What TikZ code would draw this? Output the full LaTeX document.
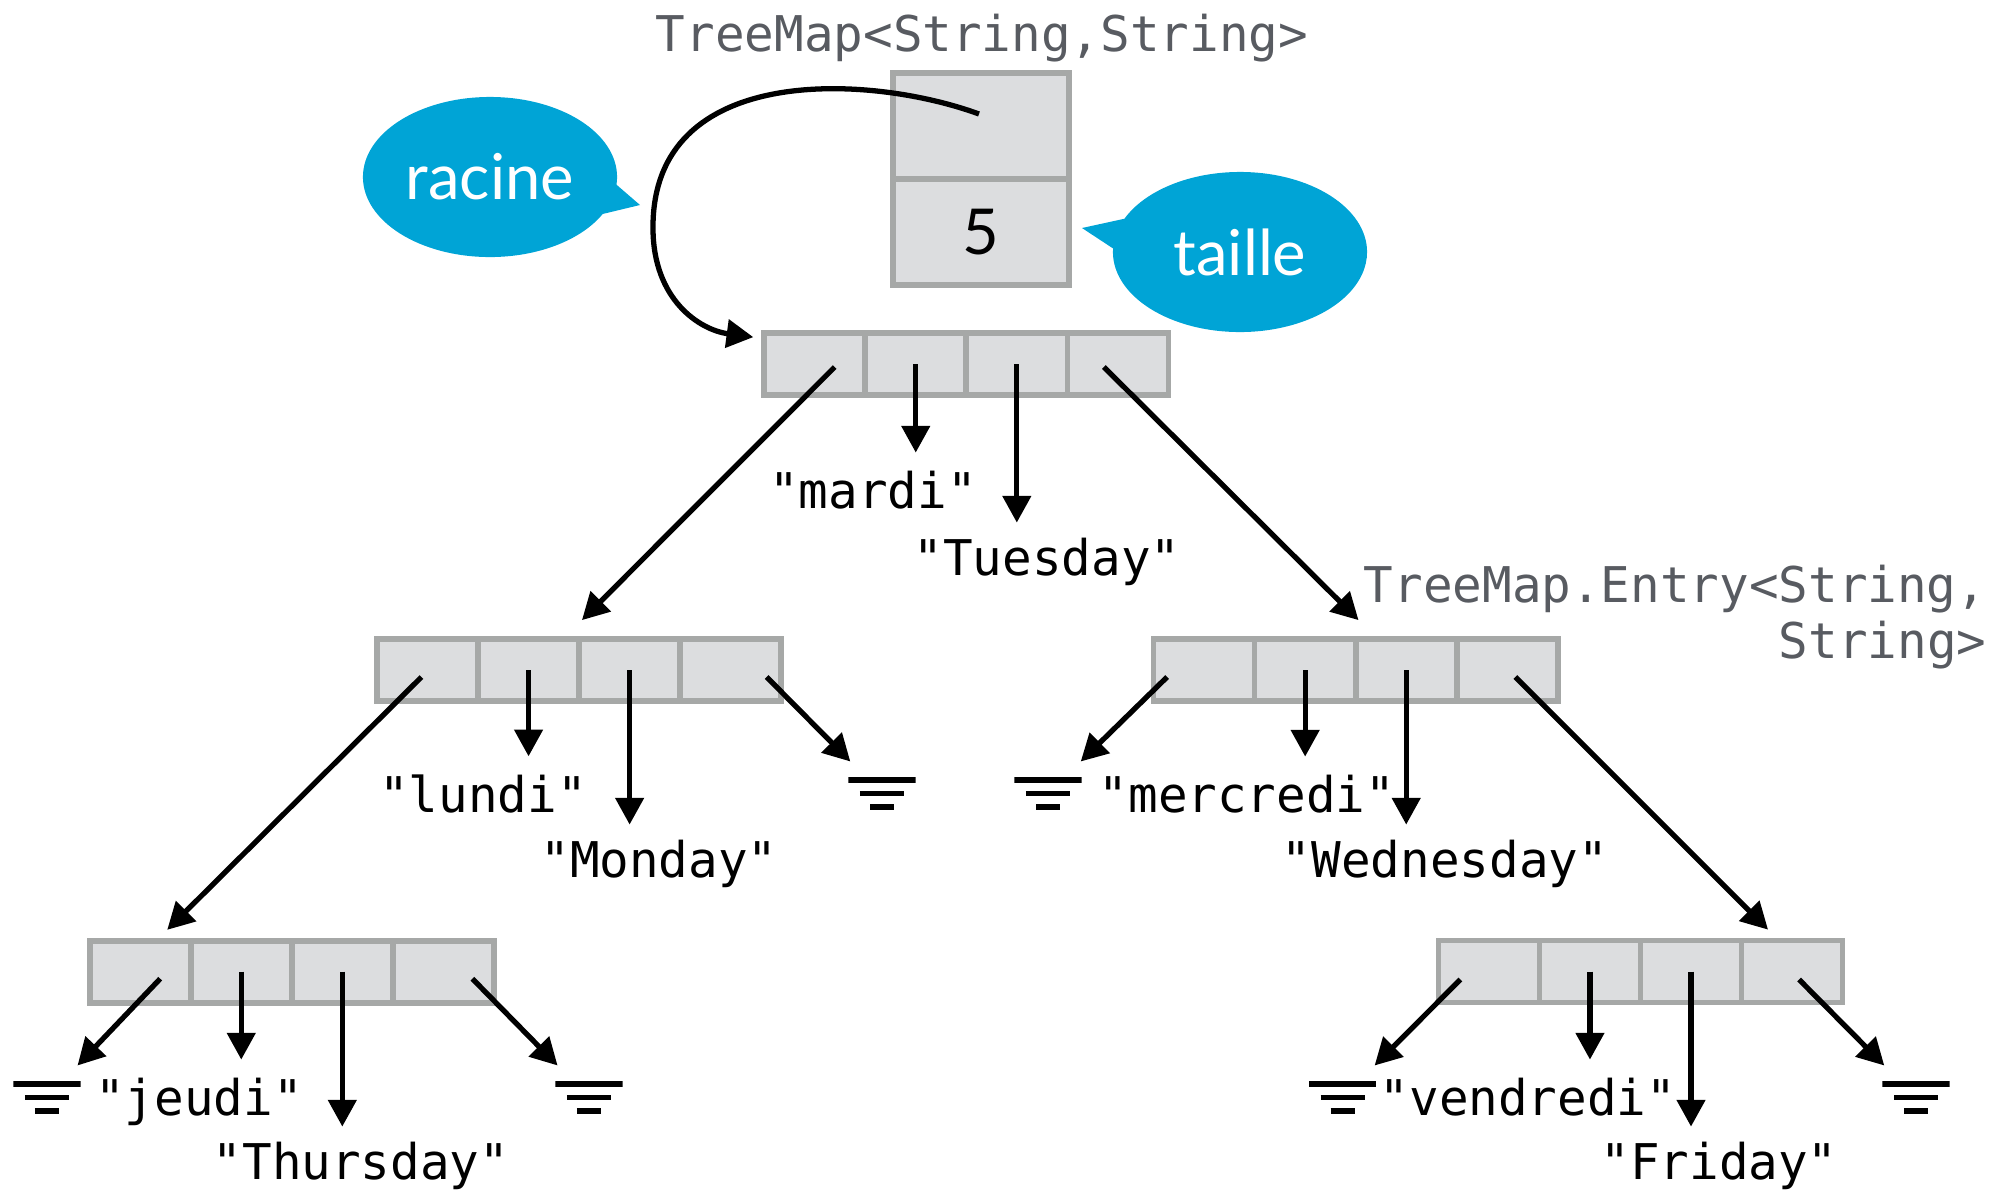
\documentclass[tikz,border=0pt]{standalone}
\usepackage{fontspec}
\setmainfont{Lato}
\setmonofont{DejaVu Sans Mono}
\usetikzlibrary{shapes.geometric, shapes.callouts, arrows.meta}

\definecolor{cellfill}{RGB}{220,221,223}
\definecolor{cellline}{RGB}{166,168,167}
\definecolor{bubbleblue}{RGB}{0,164,214}
\definecolor{typegray}{RGB}{88,91,97}

\tikzstyle{cell} = [rectangle, minimum width=1.01cm, minimum height=0.62cm, inner sep=0pt, draw=cellline, line width=0.057cm, fill=cellfill]
\tikzstyle{field} = [rectangle, minimum width=1.76cm, minimum height=1.06cm, inner sep=0pt, draw=cellline, line width=0.057cm, fill=cellfill, font=\fontsize{18}{20}\selectfont]
\tikzstyle{keytxt} = [inner sep=0pt, outer sep=0.18cm, anchor=base, font=\ttfamily\fontsize{14}{16}\selectfont]
\tikzstyle{valtxt} = [keytxt, outer sep=0.15cm]
\tikzstyle{typetxt} = [inner sep=0pt, text=typegray, font=\ttfamily\fontsize{14}{16}\selectfont]
\tikzstyle{bubble} = [ellipse callout, callout pointer arc=22, minimum width=2.54cm, minimum height=1.6cm, inner sep=0pt, fill=bubbleblue, text=white, font=\fontsize{18}{20}\selectfont]
\tikzstyle{nullref} = [rectangle, minimum width=0.67cm, minimum height=0.34cm, inner sep=0pt, outer sep=0.15cm, path picture={
  \draw[line width=0.052cm] ([yshift=-0.035cm]path picture bounding box.north west) -- ([yshift=-0.035cm]path picture bounding box.north east);
  \draw[line width=0.052cm] ([xshift=-0.22cm]path picture bounding box.center) -- ([xshift=0.22cm]path picture bounding box.center);
  \draw[line width=0.052cm] ([xshift=-0.12cm,yshift=0.035cm]path picture bounding box.south) -- ([xshift=0.12cm,yshift=0.035cm]path picture bounding box.south);}]
\tikzstyle{ptr} = [-{Triangle[length=7.6pt,width=7.9pt]}, line width=1.5pt]

\begin{document}
\begin{tikzpicture}[x=0.01cm, y=-0.01cm, node distance=1.01cm]
\useasboundingbox (0,0) rectangle (2008,1190);

\node (maptype) [typetxt, anchor=base] at (982,51) {TreeMap<String,String>};
\node (tm1) [field] at (981,126) {};
\node (tm2) [field, node distance=1.06cm, below of=tm1] {5};

\node (racine) [bubble, callout absolute pointer={(640,205)}] at (490,177) {racine};
\node (taille) [bubble, callout absolute pointer={(1082,228)}] at (1240,252) {taille};

\node (r1) [cell] at (814.7,364) {};
\node (r2) [cell, right of=r1] {};
\node (r3) [cell, right of=r2] {};
\node (r4) [cell, right of=r3] {};

\node (l1) [cell] at (427.5,670) {};
\node (l2) [cell, right of=l1] {};
\node (l3) [cell, right of=l2] {};
\node (l4) [cell, right of=l3] {};

\node (m1) [cell] at (1204.1,670) {};
\node (m2) [cell, right of=m1] {};
\node (m3) [cell, right of=m2] {};
\node (m4) [cell, right of=m3] {};

\node (j1) [cell] at (140.2,971.7) {};
\node (j2) [cell, right of=j1] {};
\node (j3) [cell, right of=j2] {};
\node (j4) [cell, right of=j3] {};

\node (v1) [cell] at (1488.9,971.5) {};
\node (v2) [cell, right of=v1] {};
\node (v3) [cell, right of=v2] {};
\node (v4) [cell, right of=v3] {};

\node (entrytype) [typetxt, anchor=base east] at (1987,602) {TreeMap.Entry<String,};
\node (entrytypeb) [typetxt, anchor=base east] at (1987,658) {String>};

\node (mardi) [keytxt] at (873,508) {"mardi"};
\node (tuesday) [valtxt] at (1047,575) {"Tuesday"};
\node (lundi) [keytxt] at (483,812) {"lundi"};
\node (monday) [valtxt] at (659,877) {"Monday"};
\node (mercredi) [keytxt] at (1247,812) {"mercredi"};
\node (wednesday) [valtxt] at (1445,877) {"Wednesday"};
\node (jeudi) [keytxt] at (199,1115) {"jeudi"};
\node (thursday) [valtxt] at (361,1179) {"Thursday"};
\node (vendredi) [keytxt] at (1528,1115) {"vendredi"};
\node (friday) [valtxt] at (1719,1179) {"Friday"};

\node (nulla) [nullref] at (882,793.5) {};
\node (nullb) [nullref] at (1048,793.5) {};
\node (nullc) [nullref] at (47,1097.5) {};
\node (nulld) [nullref] at (589,1097.5) {};
\node (nulle) [nullref] at (1342.7,1097.5) {};
\node (nullf) [nullref] at (1916,1097.5) {};

\draw[ptr] ([xshift=-0.02cm,yshift=0.12cm]tm1.center) .. controls (870,74) and (652,62) .. (653,228) .. controls (653,300) and (700,330) .. ([xshift=-0.08cm,yshift=-0.07cm]r1.north west);

\draw[ptr] ([xshift=0.20cm,yshift=-0.03cm]r1.center) -- ([yshift=0.16cm]l2.north east);
\draw[ptr] (r2.center) -- (r2.center |- mardi.north);
\draw[ptr] (r3.center) -- (r3.center |- tuesday.north);
\draw[ptr] ([xshift=-0.14cm,yshift=-0.03cm]r4.center) -- ([yshift=0.16cm]m2.north east);

\draw[ptr] ([xshift=-0.06cm,yshift=-0.07cm]l1.center) -- ([xshift=0.27cm,yshift=0.08cm]j1.north);
\draw[ptr] (l2.center) -- (l2.center |- lundi.north);
\draw[ptr] (l3.center) -- (l3.center |- monday.north);
\draw[ptr] ([xshift=0.36cm,yshift=-0.07cm]l4.center) -- (nulla);

\draw[ptr] ([xshift=-0.37cm,yshift=-0.07cm]m1.center) -- (nullb);
\draw[ptr] (m2.center) -- (m2.center |- mercredi.north);
\draw[ptr] (m3.center) -- (m3.center |- wednesday.north);
\draw[ptr] ([xshift=0.08cm,yshift=-0.07cm]m4.center) -- ([xshift=-0.24cm,yshift=0.08cm]v4.north);

\draw[ptr] ([xshift=0.20cm,yshift=-0.07cm]j1.center) -- (nullc);
\draw[ptr] (j2.center) -- (j2.center |- jeudi.north);
\draw[ptr] (j3.center) -- (j3.center |- thursday.north);
\draw[ptr] ([xshift=0.29cm,yshift=-0.07cm]j4.center) -- (nulld);

\draw[ptr] ([xshift=-0.285cm,yshift=-0.08cm]v1.center) -- (nulle);
\draw[ptr] (v2.center) -- (v2.center |- vendredi.north);
\draw[ptr] (v3.center) -- (v3.center |- friday.north);
\draw[ptr] ([xshift=0.07cm,yshift=-0.08cm]v4.center) -- (nullf);

\end{tikzpicture}
\end{document}
